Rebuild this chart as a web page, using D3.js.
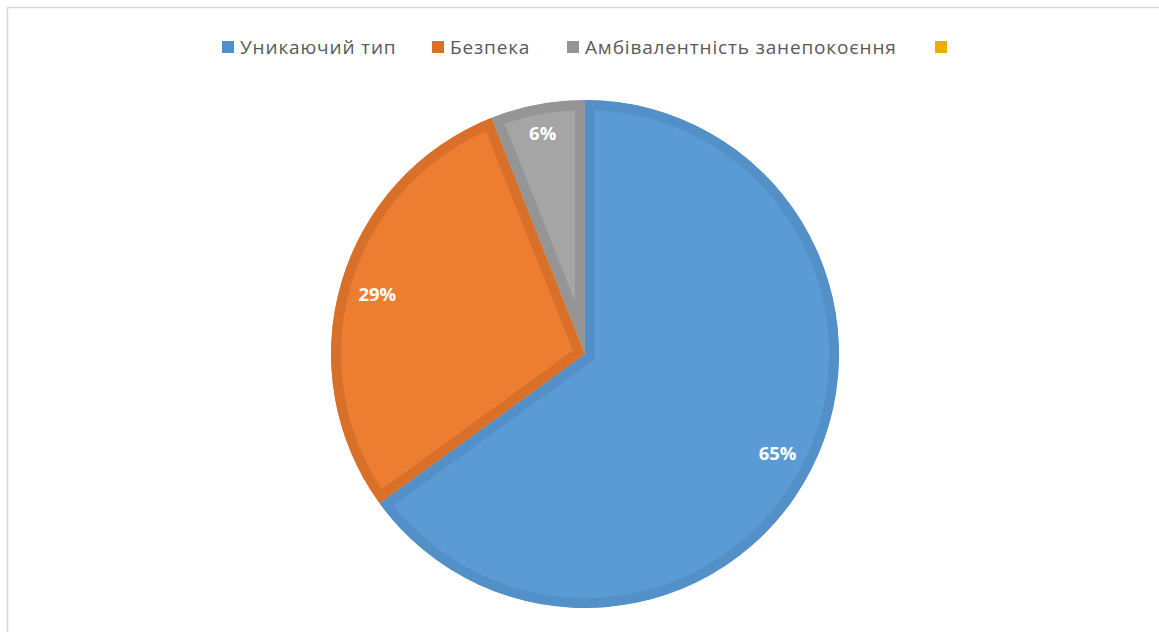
<!DOCTYPE html>
<html>
<head>
<meta charset="utf-8">
<script src="https://cdn.jsdelivr.net/npm/d3@7"></script>
<style>
  html, body { margin: 0; padding: 0; background: #fff; }
  svg { display: block; }
</style>
</head>
<body>
<svg id="chart" width="1159" height="632"></svg>
<script>
// Attachment style shares
const categories = ["Уникаючий тип", "Безпека", "Амбівалентність занепокоєння", ""];
const values = [65, 29, 6, 0];
const fillColors = ["#5B9BD5", "#ED7D31", "#A5A5A5", "#FFC000"];
const edgeColors = ["#5390C8", "#D8702A", "#959595", "#E8AE00"];

const svg = d3.select("#chart");
const W = 1159, H = 632;
const defs = svg.append("defs");

// chart frame
svg.append("rect")
  .attr("x", 7.5).attr("y", 7.5)
  .attr("width", W + 20).attr("height", H + 20)
  .attr("fill", "#fff")
  .attr("stroke", "#D9D9D9")
  .attr("stroke-width", 1.5);

const cx = 585, cy = 354, R = 254;
const borderW = 10;
const labelInset = 17; // gap between a label's outer corner and the rim

const pie = d3.pie().sort(null).value(d => d.value);
const arcs = pie(categories.map((c, i) => ({ name: c, value: values[i], i })));
const arc = d3.arc().innerRadius(0).outerRadius(R);

const g = svg.append("g").attr("transform", `translate(${cx},${cy})`);

arcs.filter(a => a.data.value > 0).forEach((a, k) => {
  const id = "slice-clip-" + k;
  // clip each slice to itself so its border band lies inside the slice
  defs.append("clipPath").attr("id", id)
    .append("path").attr("d", arc(a));
  g.append("path")
    .attr("d", arc(a))
    .attr("fill", fillColors[a.data.i])
    .attr("stroke", edgeColors[a.data.i])
    .attr("stroke-width", borderW * 2)
    .attr("stroke-linejoin", "miter")
    .attr("clip-path", `url(#${id})`);
});

// percentage labels, pushed out along the mid-angle until the
// outermost corner of the label sits just inside the rim
const total = d3.sum(values);
arcs.filter(a => a.data.value > 0).forEach(a => {
  const t = g.append("text")
    .attr("text-anchor", "middle")
    .attr("dominant-baseline", "central")
    .attr("font-family", "'Open Sans', 'DejaVu Sans', sans-serif")
    .attr("font-weight", "bold")
    .attr("font-size", 18.5)
    .attr("fill", "#fff")
    .text(d3.format(".0%")(a.data.value / total));
  const bb = t.node().getBBox();
  const hw = bb.width / 2, hh = 8.5;
  const mid = (a.startAngle + a.endAngle) / 2;
  const ux = Math.sin(mid), uy = -Math.cos(mid);
  const target = R - labelInset;
  let lo = 0, hi = R;
  for (let it = 0; it < 40; it++) {
    const r = (lo + hi) / 2;
    const fx = r * ux + Math.sign(ux) * hw;
    const fy = r * uy + Math.sign(uy) * hh;
    if (Math.hypot(fx, fy) > target) hi = r; else lo = r;
  }
  t.attr("x", lo * ux).attr("y", lo * uy);
});

// legend
const legendX = [222, 432, 567, 935];
const legend = svg.append("g").attr("class", "legend");
categories.forEach((c, i) => {
  const lg = legend.append("g").attr("transform", `translate(${legendX[i]},47)`);
  lg.append("rect").attr("x", 0).attr("y", -6).attr("width", 12).attr("height", 12)
    .attr("fill", edgeColors[i]);
  lg.append("text").attr("x", 18).attr("y", 0)
    .attr("dominant-baseline", "central")
    .attr("font-family", "'Open Sans', 'DejaVu Sans', sans-serif")
    .attr("font-size", 19)
    .attr("letter-spacing", 0.85)
    .attr("fill", "#595959")
    .text(c);
});
</script>
</body>
</html>
